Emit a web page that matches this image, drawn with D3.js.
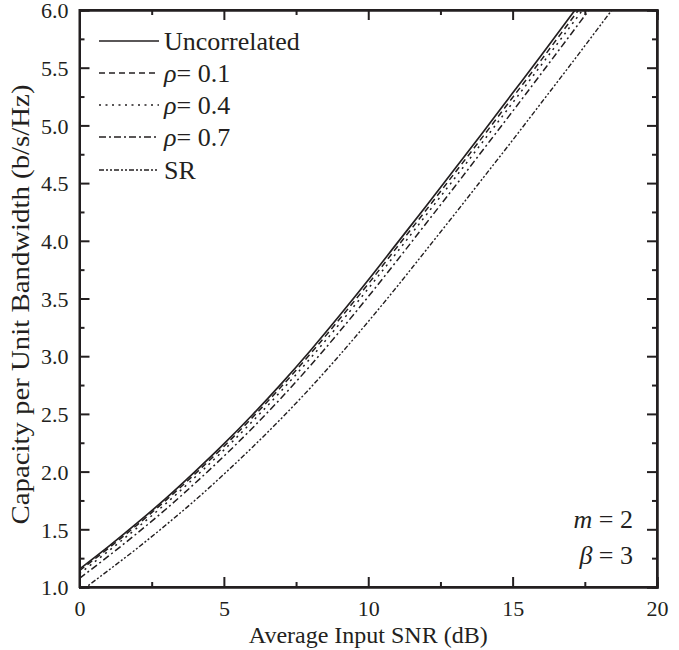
<!DOCTYPE html>
<html><head><meta charset="utf-8">
<script src="https://cdn.jsdelivr.net/npm/d3@7/dist/d3.min.js"></script>
<style>
body{margin:0;background:#fff}
svg text, svg tspan{font-family:"Liberation Serif","Times New Roman",serif !important}
</style>
</head><body>
<svg id="c" width="679" height="650" style="font-family:'Liberation Serif',serif"></svg>
<script>
const snr = [0,1,2,3,4,5,6,7,8,9,10,11,12,13,14,15,16,17,18,19];
const uncorrelated = [1.155,1.35,1.555,1.77,2.00,2.24,2.495,2.765,3.05,3.35,3.66,3.98,4.30,4.625,4.95,5.28,5.61,5.945,6.28,6.62];
const rho01 = [1.142,1.335,1.539,1.753,1.980,2.218,2.472,2.739,3.022,3.32,3.627,3.946,4.265,4.589,4.913,5.242,5.570,5.905,6.240,6.579];
const rho04 = [1.117,1.311,1.513,1.725,1.951,2.187,2.438,2.703,2.983,3.278,3.586,3.902,4.222,4.544,4.869,5.196,5.526,5.858,6.193,6.532];
const rho07 = [1.075,1.267,1.467,1.676,1.899,2.133,2.380,2.642,2.919,3.212,3.516,3.830,4.150,4.471,4.796,5.122,5.452,5.784,6.119,6.457];
const sr = [0.955,1.144,1.336,1.539,1.751,1.977,2.214,2.463,2.727,3.007,3.30,3.604,3.918,4.233,4.552,4.872,5.198,5.524,5.855,6.186];
const xTicks = [0,5,10,15,20];
const yTicks = [1.0,1.5,2.0,2.5,3.0,3.5,4.0,4.5,5.0,5.5,6.0];
const seriesNames = ["Uncorrelated","ρ","ρ","ρ","SR"];
const seriesSuffix = ["","= 0.1","= 0.4","= 0.7",""];

const FONT = "Liberation Serif";
const ink = "#231f20";
const dashes = [null,"6,4","2,4.5","7,3,2,3","5,2,2,2,2,2"];
const widths = [1.7,1.5,1.5,1.5,1.4];
const allSeries = [uncorrelated,rho01,rho04,rho07,sr];

const svg = d3.select("#c");
const L=79.5, R=657, T=10, B=587;
const x = d3.scaleLinear().domain([0,20]).range([L,R]);
const y = d3.scaleLinear().domain([1,6]).range([B,T]);

svg.append("clipPath").attr("id","clip").append("rect")
  .attr("x",L).attr("y",T).attr("width",R-L).attr("height",B-T);

const line = d3.line().x((d,i)=>x(snr[i])).y(d=>y(d)).curve(d3.curveMonotoneX);
const g = svg.append("g").attr("clip-path","url(#clip)");
allSeries.forEach((s,k)=>{
  g.append("path").datum(s).attr("d",line).attr("fill","none")
   .attr("stroke",ink).attr("stroke-width",widths[k])
   .attr("stroke-dasharray",dashes[k]);
});

const xMinor = d3.range(2.5,20,5);
const yMinor = d3.range(1.25,6,0.5);
function axisGen(axis, scale, ticks, size, fmt){
  return axis(scale).tickValues(ticks).tickSize(size).tickFormat(fmt);
}
const noFmt = ()=> "";
const gb = svg.append("g").attr("transform",`translate(0,${B})`);
gb.call(axisGen(d3.axisTop,x,xTicks,10,d3.format("d")));
gb.append("g").call(axisGen(d3.axisTop,x,xMinor,5,noFmt));
gb.selectAll(".tick text").attr("y",29).attr("dy",0).style("font-size","22px");
const gt = svg.append("g").attr("transform",`translate(0,${T})`);
gt.call(axisGen(d3.axisBottom,x,xTicks,10,noFmt));
gt.append("g").call(axisGen(d3.axisBottom,x,xMinor,5,noFmt));
const gl = svg.append("g").attr("transform",`translate(${L},0)`);
gl.call(axisGen(d3.axisRight,y,yTicks,10,d3.format(".1f")));
gl.append("g").call(axisGen(d3.axisRight,y,yMinor,5,noFmt));
gl.selectAll(".tick text").attr("x",-11).attr("text-anchor","end").attr("dy","0.35em").style("font-size","22px");
const gr = svg.append("g").attr("transform",`translate(${R},0)`);
gr.call(axisGen(d3.axisLeft,y,yTicks,10,noFmt));
gr.append("g").call(axisGen(d3.axisLeft,y,yMinor,5,noFmt));

svg.selectAll("g").attr("font-family",FONT);
svg.selectAll(".tick text").attr("font-family",FONT).attr("fill",ink);
svg.selectAll(".domain").attr("stroke",ink).attr("stroke-width",2);
svg.selectAll(".tick line").attr("stroke",ink).attr("stroke-width",2);

svg.append("rect").attr("x",L).attr("y",T).attr("width",R-L).attr("height",B-T)
  .attr("fill","none").attr("stroke",ink).attr("stroke-width",2);

svg.append("text").attr("x",(L+R)/2).attr("y",643).attr("text-anchor","middle")
  .attr("font-family",FONT).attr("fill",ink)
  .style("font-size","24px").text("Average Input SNR (dB)");
svg.append("text").attr("transform",`translate(29,${(T+B)/2+6}) rotate(-90)`)
  .attr("text-anchor","middle").style("font-size","25px")
  .attr("textLength",440).attr("lengthAdjust","spacingAndGlyphs")
  .attr("font-family",FONT).attr("fill",ink)
  .text("Capacity per Unit Bandwidth (b/s/Hz)");

const legY = [41,73,105,137,170];
allSeries.forEach((s,k)=>{
  svg.append("line").attr("x1",99).attr("x2",159).attr("y1",legY[k]).attr("y2",legY[k])
    .attr("stroke",ink).attr("stroke-width",widths[k]).attr("stroke-dasharray",dashes[k]);
  const t = svg.append("text").attr("x",164).attr("y",legY[k]).attr("dy","0.35em")
    .attr("font-family",FONT).attr("fill",ink).style("font-size","26px");
  if(seriesSuffix[k]){
    t.append("tspan").style("font-style","italic").text(seriesNames[k]);
    t.append("tspan").text(seriesSuffix[k]);
  } else {
    t.text(seriesNames[k]);
  }
});

const ann = svg.append("g").attr("font-family",FONT).attr("fill",ink).style("font-size","26px");
const a1 = ann.append("text").attr("x",633).attr("y",528).attr("text-anchor","end").attr("font-family",FONT);
a1.append("tspan").style("font-style","italic").text("m");
a1.append("tspan").text(" = 2");
const a2 = ann.append("text").attr("x",633).attr("y",564).attr("text-anchor","end").attr("font-family",FONT);
a2.append("tspan").style("font-style","italic").text("β");
a2.append("tspan").text(" = 3");
</script>
</body></html>
